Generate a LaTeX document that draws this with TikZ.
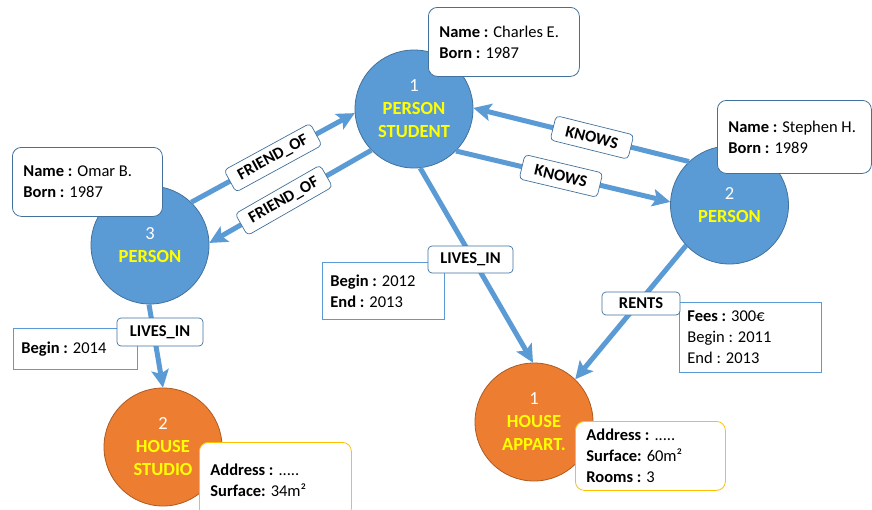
\documentclass[tikz,border=0pt]{standalone}
\usepackage{fontspec}
\setmainfont{Carlito}
\usetikzlibrary{arrows.meta}
\definecolor{nodeblue}{HTML}{5B9BD5}
\definecolor{nodeblueb}{HTML}{41719C}
\definecolor{nodeorange}{HTML}{ED7D31}
\definecolor{nodeorangeb}{HTML}{AE5A21}
\definecolor{propyellow}{HTML}{FFC000}
\definecolor{txtyellow}{HTML}{FFFF00}
\newcommand{\mycirc}{\fontsize{18.5}{23}\selectfont}
\newcommand{\myprop}{\fontsize{16.5}{21}\selectfont}
\newcommand{\mylbl}{\fontsize{16.5}{20}\selectfont\bfseries}
\begin{document}
\begin{tikzpicture}[x=1pt,y=-1pt,
  person/.style={circle, fill=nodeblue, draw=nodeblueb, line width=0.8pt,
    minimum size=118pt, inner sep=0pt, align=center, font=\mycirc},
  house/.style={person, fill=nodeorange, draw=nodeorangeb},
  rel/.style={line width=5pt, draw=nodeblue,
    -{Stealth[length=18pt, width=18pt, inset=4pt, line width=0pt]}},
  lbl/.style={draw=nodeblueb, fill=white, rounded corners=4pt, line width=0.7pt,
    font=\mylbl, inner sep=0pt, minimum height=25pt},
  prop/.style={draw=nodeblueb, fill=white, rounded corners=9pt, line width=0.8pt,
    align=flush left, anchor=north west, inner xsep=11pt, inner ysep=0pt, font=\myprop},
  hprop/.style={prop, draw=propyellow},
  attr/.style={draw=nodeblue, fill=white, line width=0.8pt, align=flush left,
    anchor=north west, inner xsep=8pt, inner ysep=0pt, font=\myprop}
]
\useasboundingbox[fill=white] (0,0) rectangle (872,509);

% circles
\node[person] (p1) at (414,109) {{\color{white}1}\\\textbf{\color{txtyellow}PERSON}\\\textbf{\color{txtyellow}STUDENT}};
\node[person] (p3) at (150,245) {{\color{white}3}\\\textbf{\color{txtyellow}PERSON}};
\node[person] (p2) at (729.5,205) {{\color{white}2}\\\textbf{\color{txtyellow}PERSON}};
\node[house] (s2) at (163,447) {{\color{white}2}\\\textbf{\color{txtyellow}HOUSE}\\\textbf{\color{txtyellow}STUDIO}};
\node[house] (a1) at (534,422) {{\color{white}1}\\\textbf{\color{txtyellow}HOUSE}\\\textbf{\color{txtyellow}APPART.}};

% attribute boxes of relations
\node[attr, text width=108pt, minimum height=41pt] (at1) at (13,328) {\textbf{Begin :} 2014};
\node[attr, text width=106pt, minimum height=57pt] (at2) at (322,262) {\textbf{Begin :} 2012\\\textbf{End :} 2013};
\node[attr, text width=126pt, minimum height=70pt] (at3) at (679,302) {\textbf{Fees :} 300€\\Begin : 2011\\End : 2013};

% relations
\draw[rel] (p3.46) -- (p1.184) node[lbl, sloped, pos=0.5, minimum width=98pt] (f1) {FRIEND\_OF};
\draw[rel] (p1.224) -- (p3.2) node[lbl, sloped, pos=0.54, minimum width=98pt] (f2) {FRIEND\_OF};
\draw[rel] (p2.133) -- (p1.1) node[lbl, sloped, pos=0.45, minimum width=80pt] (k1) {KNOWS};
\draw[rel] (p1.-45) -- (p2.177) node[lbl, sloped, pos=0.49, minimum width=80pt] (k2) {KNOWS};
\draw[rel] (p1.276) -- (a1.91);
\draw[rel] (p2.223) -- (a1.46);
\draw[rel] (p3.269) -- (s2.90);

\node[lbl, minimum width=86pt, minimum height=28pt] (l1) at (160,332) {LIVES\_IN};
\node[lbl, minimum width=85pt, minimum height=27pt] (l2) at (470.5,259.5) {LIVES\_IN};
\node[lbl, minimum width=78pt, minimum height=23pt] (l3) at (641,303.5) {RENTS};

% property boxes
\node[prop, text width=129pt, minimum height=69pt] (pr1) at (428,7) {\mbox{\textbf{Name :} Charles E.}\\\textbf{Born :} 1987};
\node[prop, text width=128pt, minimum height=69pt] (pr2) at (12,147) {\mbox{\textbf{Name :} Omar B.}\\\textbf{Born :} 1987};
\node[prop, text width=132pt, minimum height=73pt] (pr3) at (717,100) {\mbox{\textbf{Name :} Stephen H.}\\\textbf{Born :} 1989};
\node[hprop, text width=130pt, minimum height=75pt] (pr4) at (199,442) {\textbf{Address :} .....\\\textbf{Surface:} 34m²};
\node[hprop, text width=128pt, minimum height=69pt] (pr5) at (575,421) {\textbf{Address :} .....\\\textbf{Surface:} 60m²\\\textbf{Rooms :} 3};
\end{tikzpicture}
\end{document}
